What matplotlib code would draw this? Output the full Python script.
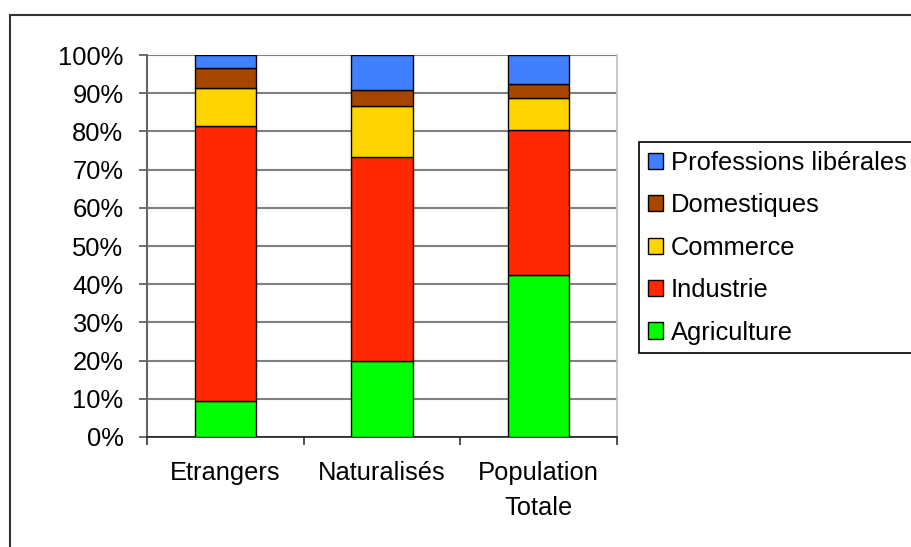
import matplotlib
matplotlib.use("Agg")
import matplotlib.pyplot as plt
import numpy as np
from matplotlib.patches import Rectangle
from matplotlib.ticker import PercentFormatter, FixedLocator

# ---------------------------------------------------------
# Data (share of each occupation group, in %)
# ---------------------------------------------------------
categories = ["Etrangers", "Naturalisés", "Population\nTotale"]
agriculture = [9.4, 19.9, 42.3]
industrie = [72.1, 53.3, 38.1]
commerce = [9.8, 13.5, 8.4]
domestiques = [5.2, 4.1, 3.7]
professions = [3.5, 9.2, 7.5]

series_names = ["Agriculture", "Industrie", "Commerce", "Domestiques", "Professions libérales"]
series_values = [agriculture, industrie, commerce, domestiques, professions]
series_colors = ["#00FF00", "#FF2800", "#FFD400", "#A64500", "#4080FF"]

plt.rcParams["font.family"] = ["Liberation Sans", "DejaVu Sans"]
FS = 18.4

fig = plt.figure(figsize=(9.12, 5.47), dpi=100)
ax = fig.add_axes([147 / 912, 1 - 437 / 547, 470 / 912, 382 / 547])

# outer chart border (runs off the right and bottom edges)
fig.patches.append(Rectangle((10 / 912, -0.5), 1.2, 0.5 + 1 - 15 / 547, transform=fig.transFigure,
                             fill=False, edgecolor="#333333", linewidth=1.5, zorder=0))

x = np.arange(len(categories))
bottom = np.zeros(len(categories))
handles = []
for name, vals, col in zip(series_names, series_values, series_colors):
    b = ax.bar(x, vals, width=0.39, bottom=bottom, color=col, edgecolor="black",
               linewidth=1.0, label=name, zorder=3)
    handles.append(b)
    bottom += np.array(vals)

ax.set_xlim(-0.5, 2.5)
ax.set_ylim(0, 100)
ax.set_yticks(np.arange(0, 101, 10))
ax.yaxis.set_major_formatter(PercentFormatter(decimals=0))
ax.yaxis.grid(True, color="#808080", linewidth=1.5, zorder=0)
ax.set_axisbelow(True)

ax.set_xticks(x)
ax.set_xticklabels(categories, fontsize=FS, linespacing=1.6)
ax.xaxis.set_minor_locator(FixedLocator([-0.5, 0.5, 1.5, 2.5]))
ax.tick_params(axis="x", which="major", length=0, pad=17)
ax.tick_params(axis="x", which="minor", length=6, width=1.2, color="#333333", direction="out")
ax.tick_params(axis="y", labelsize=FS, length=6, width=1.2, color="#555555", pad=11)

ax.spines["top"].set_visible(False)
ax.spines["right"].set_color("#C0C0C0")
ax.spines["right"].set_linewidth(1.2)
ax.spines["left"].set_color("#666666")
ax.spines["left"].set_linewidth(1.5)
ax.spines["bottom"].set_color("#222222")
ax.spines["bottom"].set_linewidth(1.2)

leg = fig.legend(handles=handles[::-1], labels=series_names[::-1], loc="upper left",
                 bbox_to_anchor=(639 / 912, 1 - 142 / 547), fontsize=FS, frameon=True,
                 fancybox=False, edgecolor="black", framealpha=1, borderpad=0.35,
                 handlelength=0.6, handleheight=0.6, handletextpad=0.3, labelspacing=0.72,
                 borderaxespad=0)
leg.get_frame().set_linewidth(1.2)

fig.savefig("out.png", dpi=100)
